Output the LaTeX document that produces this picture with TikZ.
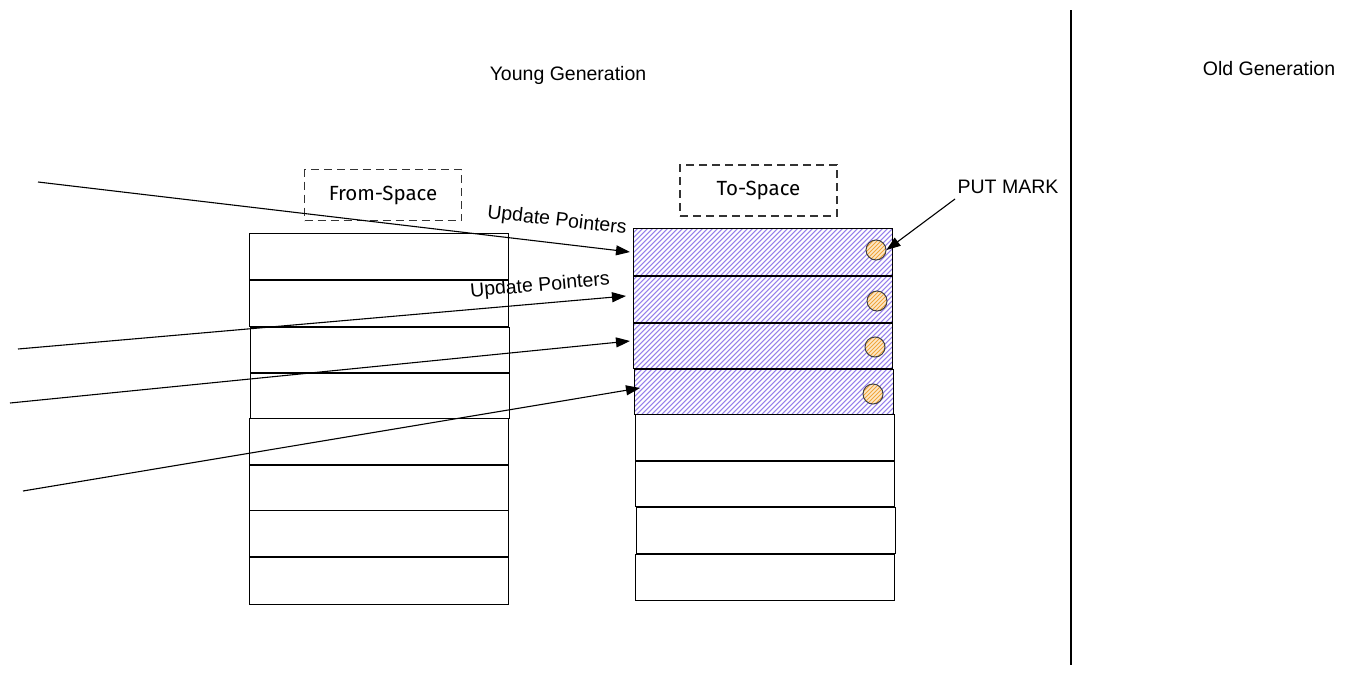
\documentclass[tikz,border=0pt]{standalone}
\usepackage{fontspec}
\setmainfont{Liberation Sans}
\newfontfamily\hand{Fira Sans}
\usetikzlibrary{arrows.meta}
\definecolor{hatchpurple}{RGB}{150,128,235}
\definecolor{hatchorange}{RGB}{240,165,60}
\definecolor{circfill}{RGB}{252,232,200}
\tikzset{
  rowbox/.style={draw=black,line width=1.2pt,fill=white,inner sep=0pt,minimum width=259pt,anchor=north west},
  hatchbox/.style={rowbox,path picture={
      \foreach \i in {-12,...,54}
        \draw[hatchpurple,line width=1.1pt] ([xshift=\i*5pt,yshift=-2pt]path picture bounding box.south west) -- ++(55,-55);}},
  markdot/.style={circle,draw=black!75,line width=1pt,inner sep=0pt,minimum size=20pt,fill=circfill,path picture={
      \foreach \i in {-6,...,6}
        \draw[hatchorange,line width=0.9pt] ([xshift=\i*4pt-12pt,yshift=-2pt]path picture bounding box.south) -- ++(25,-25);}},
  spacelabel/.style={draw=black!80,dash pattern=on 8pt off 5pt,line width=1.4pt,minimum width=157pt,minimum height=51pt,inner sep=0pt,font=\hand\fontsize{20.5}{24}\selectfont},
  ptr/.style={line width=1.1pt,-{Triangle[length=14pt,width=10pt]}},
  lbl/.style={font=\fontsize{19.5}{22}\selectfont,inner sep=0pt}
}
\begin{document}
\begin{tikzpicture}[x=1pt,y=-1pt]
\useasboundingbox (0,0) rectangle (1349,675);
\fill[white] (0,0) rectangle (1349,675);
% titles
\node[lbl] (young) at (568,75) {Young Generation};
\node[lbl] (old) at (1269,69) {Old Generation};
\coordinate (divtop) at (1071,10);
\coordinate (divbot) at (1071,665);
\draw[line width=1.3pt] (divtop) -- (divbot);
% space labels
\node[spacelabel] (from) at (383,195) {From-Space};
\node[spacelabel] (to) at (758.5,190.5) {To-Space};
% from-space rows
\node[rowbox,minimum height=46pt] (f1) at (249,233) {};
\node[rowbox,minimum height=46pt] (f2) at (249,280) {};
\node[rowbox,minimum height=45pt] (f3) at (250,327) {};
\node[rowbox,minimum height=45pt] (f4) at (250,373) {};
\node[rowbox,minimum height=46pt] (f5) at (249,418) {};
\node[rowbox,minimum height=45pt] (f6) at (249,465) {};
\node[rowbox,minimum height=46pt] (f7) at (249,510) {};
\node[rowbox,minimum height=47pt] (f8) at (249,557) {};
% to-space rows
\node[hatchbox,minimum height=47pt] (t1) at (633,228) {};
\node[hatchbox,minimum height=46pt] (t2) at (633,276) {};
\node[hatchbox,minimum height=45pt] (t3) at (633,323) {};
\node[hatchbox,minimum height=45pt] (t4) at (634,369) {};
\node[rowbox,minimum height=46pt] (t5) at (635,414) {};
\node[rowbox,minimum height=45pt] (t6) at (635,461) {};
\node[rowbox,minimum height=46pt] (t7) at (636,507) {};
\node[rowbox,minimum height=46pt] (t8) at (635,554) {};
% marks
\node[markdot] (m1) at (876,250) {};
\node[markdot] (m2) at (877,301) {};
\node[markdot] (m3) at (875,347) {};
\node[markdot] (m4) at (873,394) {};
% put mark
\node[lbl] (put) at (1008,187) {PUT MARK};
\coordinate (putstart) at (955,199);
\draw[ptr] (putstart) -- (m1.east);
% pointers
\coordinate (s1) at (38,182);
\coordinate (s2) at (18,349);
\coordinate (s3) at (10,403);
\coordinate (s4) at (23,491);
\coordinate (e1) at ([shift={(-3,24)}]t1.north west);
\coordinate (e2) at ([shift={(-7,20)}]t2.north west);
\coordinate (e3) at ([shift={(-3,18)}]t3.north west);
\coordinate (e4) at ([shift={(6,19)}]t4.north west);
\draw[ptr] (s1) -- (e1);
\draw[ptr] (s2) -- (e2);
\draw[ptr] (s3) -- (e3);
\draw[ptr] (s4) -- (e4);
\node[lbl,rotate=-6.5] (u1) at (557,221) {Update Pointers};
\node[lbl,rotate=5] (u2) at (540,286) {Update Pointers};
\end{tikzpicture}
\end{document}
